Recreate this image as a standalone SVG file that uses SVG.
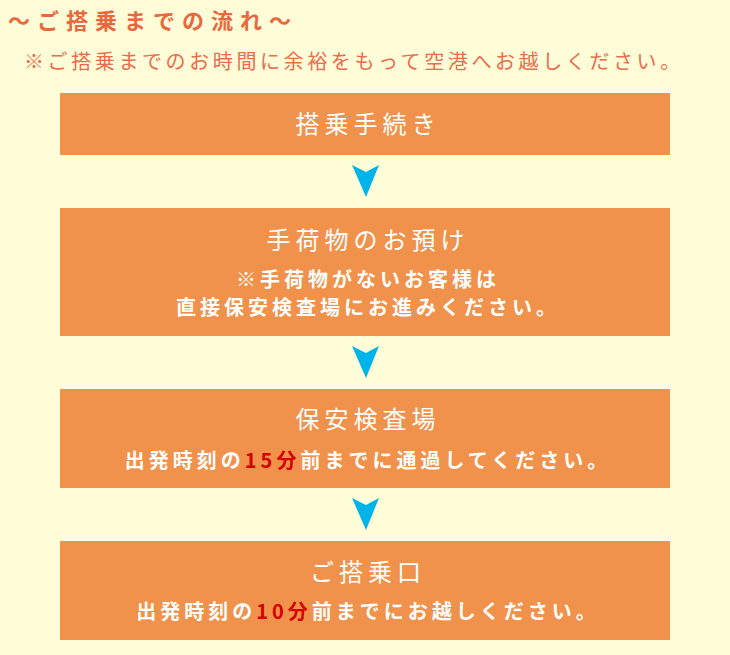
<svg xmlns="http://www.w3.org/2000/svg" width="730" height="655" viewBox="0 0 730 655">
<style>
.box{fill:#F0924B}
.t{font-family:"Noto Sans CJK JP",sans-serif;fill:#fff;text-anchor:middle}
.h{font-size:24px;letter-spacing:5px}
.s{font-size:20px;font-weight:bold;letter-spacing:4px}
.r{fill:#D60000}
.arr{fill:#00B4EA}
</style>
<rect width="730" height="655" fill="#FFFCD8"/>
<text x="8" y="29" font-family="Noto Sans CJK JP,sans-serif" font-size="22" font-weight="bold" letter-spacing="7" fill="#E8683E">～ご搭乗までの流れ～</text>
<text x="24" y="69" font-family="Noto Sans CJK JP,sans-serif" font-size="20" letter-spacing="3.6" fill="#EA6C4C">※ご搭乗までのお時間に余裕をもって空港へお越しください。</text>
<g id="connectors">
<path class="arr" d="M352 165 L366 172 L379 165 L366 197 Z"/>
<path class="arr" d="M352 346 L366 353 L379 346 L366 378 Z"/>
<path class="arr" d="M352 498 L366 505 L379 498 L366 530 Z"/>
</g>
<g id="n1"><rect class="box" x="60" y="93" width="610" height="62"/>
<text class="t h" x="368" y="133">搭乗手続き</text></g>
<g id="n2"><rect class="box" x="60" y="208" width="610" height="128"/>
<text class="t h" x="368" y="249">手荷物のお預け</text>
<text class="t s" x="368" y="287">※手荷物がないお客様は</text>
<text class="t s" x="368" y="315">直接保安検査場にお進みください。</text></g>
<g id="n3"><rect class="box" x="60" y="389" width="610" height="99"/>
<text class="t h" x="368" y="428">保安検査場</text>
<text class="t s" x="368" y="468">出発時刻の<tspan class="r">15分</tspan>前までに通過してください。</text></g>
<g id="n4"><rect class="box" x="60" y="541" width="610" height="99"/>
<text class="t h" x="368" y="581">ご搭乗口</text>
<text class="t s" x="368" y="619">出発時刻の<tspan class="r">10分</tspan>前までにお越しください。</text></g>
</svg>
